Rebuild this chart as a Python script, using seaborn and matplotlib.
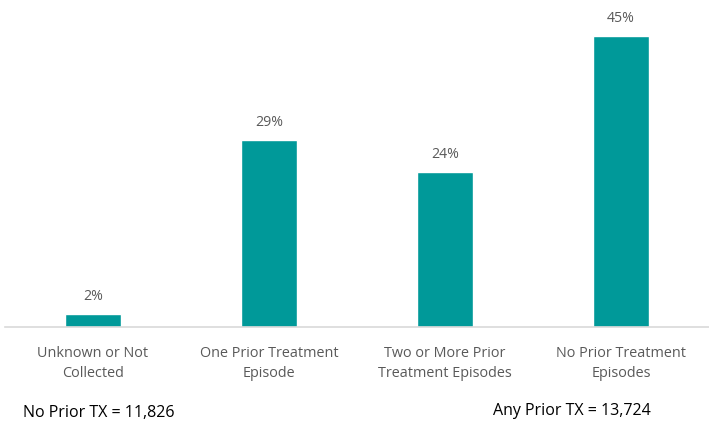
import matplotlib
matplotlib.use("Agg")
import matplotlib.pyplot as plt
import seaborn as sns
import pandas as pd

# data
categories = ["Unknown or Not\nCollected", "One Prior Treatment\nEpisode",
              "Two or More Prior\nTreatment Episodes", "No Prior Treatment\nEpisodes"]
percents = [2, 29, 24, 45]
footnote_left = "No Prior TX = 11,826"
footnote_right = "Any Prior TX = 13,724"

bar_color = "#009999"
text_gray = "#595959"

sns.set_theme(style="white")
plt.rcParams['font.family'] = ['Open Sans', 'DejaVu Sans']

df = pd.DataFrame({"category": categories, "pct": percents})

fig = plt.figure(figsize=(7.09, 4.28), dpi=100)
ax = fig.add_axes([5 / 709, 1 - 327 / 428, 704 / 709, 327 / 428])

sns.barplot(data=df, x="category", y="pct", ax=ax, color=bar_color,
            width=0.32, saturation=1)

for p, v in zip(ax.patches, percents):
    ax.annotate(f"{v}%", (p.get_x() + p.get_width() / 2, p.get_height()),
                xytext=(0, 7), textcoords="offset points",
                ha="center", va="bottom", fontsize=10.2, color=text_gray)

ax.set_ylim(0, 50.6)
ax.set_xlim(-0.5, 3.5)
ax.set_xlabel("")
ax.set_ylabel("")
ax.set_yticks([])
ax.tick_params(axis="x", length=0, pad=14, labelsize=10.4, labelcolor=text_gray)
for lbl in ax.get_xticklabels():
    lbl.set_linespacing(1.45)
for s in ["top", "right", "left"]:
    ax.spines[s].set_visible(False)
ax.spines["bottom"].set_color("#d9d9d9")
ax.spines["bottom"].set_linewidth(1.2)

fig.text(23 / 709, 1 - 413 / 428, footnote_left, fontsize=11.5, color="black",
         ha="left", va="center")
fig.text(493 / 709, 1 - 411 / 428, footnote_right, fontsize=11.5, color="black",
         ha="left", va="center")

fig.savefig("out.png", dpi=100)
